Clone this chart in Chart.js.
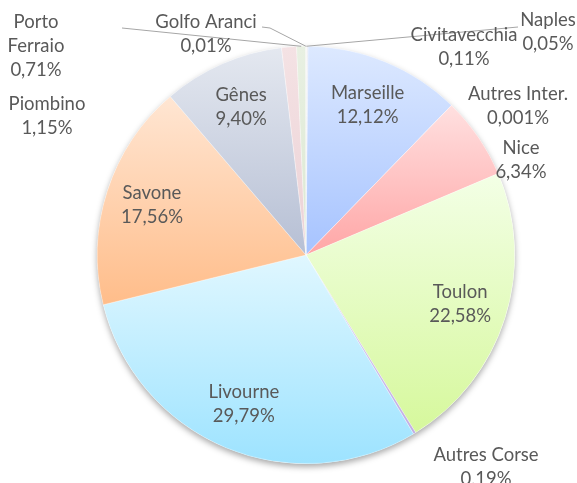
<!DOCTYPE html>
<html lang="fr">
<head>
    <meta charset="UTF-8">
    <title>Répartition par port</title>
    <script src="https://cdn.jsdelivr.net/npm/chart.js"></script>
    <style>
        body { margin: 0; background-color: #FFFFFF; }
        canvas { display: block; }
    </style>
</head>
<body>
    <canvas id="myChart" width="577" height="483"></canvas>

    <script>
        // données (sens horaire depuis midi)
        const ports = ['Naples', 'Civitavecchia', 'Marseille', 'Autres Inter.', 'Nice', 'Toulon',
            'Autres Corse', 'Livourne', 'Savone', 'Gênes', 'Piombino', 'Porto Ferraio', 'Golfo Aranci'];
        const shares = [0.05, 0.11, 12.12, 0.001, 6.34, 22.58, 0.19, 29.79, 17.56, 9.40, 1.15, 0.71, 0.01];
        const shareText = ['0,05%', '0,11%', '12,12%', '0,001%', '6,34%', '22,58%', '0,19%',
            '29,79%', '17,56%', '9,40%', '1,15%', '0,71%', '0,01%'];

        // couleurs haut / bas du dégradé de chaque part
        const topColors = ['#f4e4d4', '#e8ecf4', '#dde9ff', '#f0f0f0', '#ffe0e0', '#f3ffe6',
            '#d8ccf0', '#e0f7ff', '#ffe6d3', '#e4e8f0', '#f4e2e4', '#e8f0e2', '#f0f0f0'];
        const bottomColors = ['#e8c8b0', '#c8d0e0', '#a6c3ff', '#d0d0d0', '#ffa6a6', '#d6f89c',
            '#c0aee4', '#9de3ff', '#ffbd8a', '#b6bfd4', '#ecd2d6', '#dce8d2', '#dcdcdc'];

        // étiquettes placées hors du camembert : centre du texte en px
        const outsideLabels = {
            'Naples': [548, 20],
            'Civitavecchia': [464, 35],
            'Autres Inter.': [518, 94],
            'Nice': [521, 148],
            'Autres Corse': [486, 455],
            'Piombino': [47, 104],
            'Porto Ferraio': [36, 22],
            'Golfo Aranci': [206, 22]
        };

        const total = shares.reduce((a, b) => a + b, 0);

        function sliceAngles(i) {
            let cum = 0;
            for (let k = 0; k < i; k++) cum += shares[k];
            const a0 = -Math.PI / 2 + 2 * Math.PI * cum / total;
            const a1 = a0 + 2 * Math.PI * shares[i] / total;
            return [a0, a1];
        }

        function sliceGradient(context) {
            const chart = context.chart;
            const area = chart.chartArea;
            const i = context.dataIndex;
            if (!area) return bottomColors[i];
            const cx = (area.left + area.right) / 2;
            const cy = (area.top + area.bottom) / 2;
            const r = Math.min(area.right - area.left, area.bottom - area.top) / 2;
            const [a0, a1] = sliceAngles(i);
            const ys = [cy, cy + r * Math.sin(a0), cy + r * Math.sin(a1)];
            [-Math.PI / 2, Math.PI / 2, 3 * Math.PI / 2].forEach(a => {
                if (a > a0 && a < a1) ys.push(cy + r * Math.sin(a));
            });
            const y0 = Math.min(...ys), y1 = Math.max(...ys);
            const g = chart.ctx.createLinearGradient(0, y0, 0, y1 + 0.01);
            g.addColorStop(0, topColors[i]);
            g.addColorStop(1, bottomColors[i]);
            return g;
        }

        const shadowPlugin = {
            id: 'pieShadow',
            beforeDatasetsDraw(chart) {
                const arc = chart.getDatasetMeta(0).data[0];
                if (!arc) return;
                const ctx = chart.ctx;
                ctx.save();
                ctx.shadowColor = 'rgba(0,0,0,0.35)';
                ctx.shadowBlur = 6;
                ctx.shadowOffsetY = 3;
                ctx.fillStyle = '#ffffff';
                ctx.beginPath();
                ctx.arc(arc.x, arc.y, arc.outerRadius, 0, 2 * Math.PI);
                ctx.fill();
                ctx.restore();
            }
        };

        const labelPlugin = {
            id: 'sliceLabels',
            afterDatasetsDraw(chart) {
                const ctx = chart.ctx;
                const arcs = chart.getDatasetMeta(0).data;
                const cx = arcs[0].x, cy = arcs[0].y, r = arcs[0].outerRadius;
                ctx.save();

                // traits de rappel
                ctx.strokeStyle = '#a6a6a6';
                ctx.lineWidth = 1;
                const edge = i => {
                    const a = (arcs[i].startAngle + arcs[i].endAngle) / 2;
                    return [cx + r * Math.cos(a), cy + r * Math.sin(a)];
                };
                let p = edge(ports.indexOf('Naples'));
                ctx.beginPath(); ctx.moveTo(p[0], p[1]); ctx.lineTo(518, 27); ctx.stroke();
                p = edge(ports.indexOf('Porto Ferraio'));
                ctx.beginPath(); ctx.moveTo(p[0], p[1]); ctx.lineTo(122, 28); ctx.stroke();
                p = edge(ports.indexOf('Golfo Aranci'));
                ctx.beginPath(); ctx.moveTo(p[0], p[1]); ctx.lineTo(270, 28); ctx.lineTo(262, 27); ctx.stroke();

                ctx.fillStyle = '#595959';
                ctx.font = '18.5px Lato, "Open Sans", sans-serif';
                ctx.textAlign = 'center';
                ctx.textBaseline = 'middle';
                ports.forEach((name, i) => {
                    let x, y, lines;
                    if (outsideLabels[name]) {
                        [x, y] = outsideLabels[name];
                        lines = name === 'Porto Ferraio' ? ['Porto', 'Ferraio', shareText[i]] : [name, shareText[i]];
                    } else {
                        const a = (arcs[i].startAngle + arcs[i].endAngle) / 2;
                        x = cx + 0.775 * r * Math.cos(a);
                        y = cy + 0.775 * r * Math.sin(a) - 12;
                        lines = [name, shareText[i]];
                    }
                    lines.forEach((t, k) => ctx.fillText(t, x, y + k * 24));
                });
                ctx.restore();
            }
        };

        const ctx = document.getElementById('myChart').getContext('2d');
        const chart = new Chart(ctx, {
            type: 'pie',
            data: {
                labels: ports,
                datasets: [{
                    data: shares,
                    backgroundColor: sliceGradient,
                    borderColor: 'rgba(255,255,255,0.6)',
                    borderWidth: 0.5
                }]
            },
            options: {
                responsive: false,
                animation: false,
                layout: { padding: { top: 46, bottom: 19, left: 97, right: 62 } },
                plugins: {
                    legend: { display: false },
                    tooltip: { enabled: false }
                }
            },
            plugins: [shadowPlugin, labelPlugin]
        });
    </script>
</body>
</html>
